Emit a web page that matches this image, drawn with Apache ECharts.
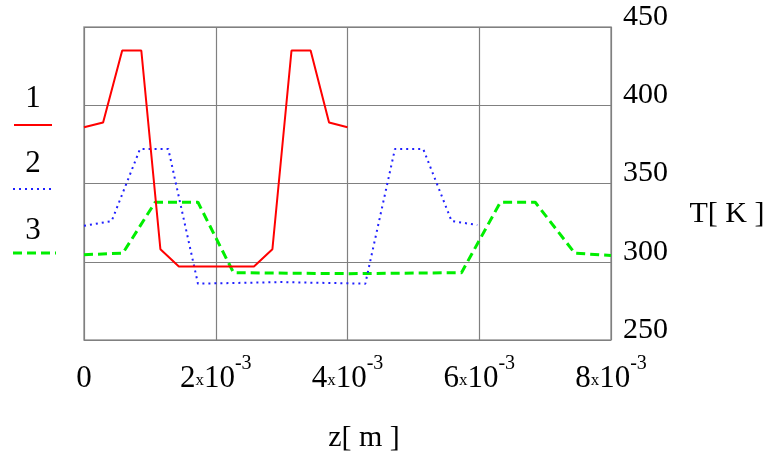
<!DOCTYPE html>
<html>
<head>
<meta charset="utf-8">
<script src="https://cdn.jsdelivr.net/npm/echarts@6/dist/echarts.min.js"></script>
<style>
html,body{margin:0;padding:0;background:#fff;}
#chart{width:767px;height:454px;}
</style>
</head>
<body>
<div id="chart"></div>
<script>
// Data (z in metres, T in kelvin)
const z1 = [0, 0.00029, 0.00058, 0.00087, 0.00116, 0.00144, 0.00258, 0.00286, 0.00315, 0.00344, 0.00372, 0.0040];
const T1 = [386, 389, 435, 435, 308, 297, 297, 308, 435, 435, 389, 386];
const z2 = [0, 0.00042, 0.00085, 0.00128, 0.00173, 0.0030, 0.00427, 0.00472, 0.00515, 0.00558, 0.00597];
const T2 = [323, 326, 372, 372, 286, 287, 286, 372, 372, 326, 323.5];
const z3 = [0, 0.00059, 0.00108, 0.00173, 0.00227, 0.0040, 0.00573, 0.00632, 0.00685, 0.00745, 0.0080];
const T3 = [304.5, 305.5, 338, 338, 293, 292.4, 293, 338, 338, 305.5, 304];
const xTicks = [0, 0.002, 0.004, 0.006, 0.008];
const xTickMant = ['0', '2', '4', '6', '8'];
const yTicks = [250, 300, 350, 400, 450];
const seriesNames = ['1', '2', '3'];
const xAxisTitle = 'z[ m ]';
const yAxisTitle = 'T[ K ]';

const FONT = '"Liberation Serif", "Times New Roman", serif';
const pair = (zs, ts) => zs.map((z, i) => [z, ts[i]]);

const chart = echarts.init(document.getElementById('chart'));
chart.setOption({
  animation: false,
  backgroundColor: '#fff',
  grid: { left: 84, right: 156, top: 27, bottom: 114, show: true, borderColor: '#9a9a9a', borderWidth: 1.5 },
  xAxis: {
    type: 'value', min: 0, max: 0.008, interval: 0.002,
    axisLine: { show: false }, axisTick: { show: false },
    splitLine: { show: true, lineStyle: { color: '#808080', width: 1.2 } },
    axisLabel: {
      margin: 14, color: '#000', fontFamily: FONT,
      formatter: function (v) {
        const i = xTicks.findIndex(t => Math.abs(t - v) < 1e-9);
        if (i <= 0) return '{m|0}';
        return '{m|' + xTickMant[i] + '}{x|x}{m|10}{s|-3}';
      },
      rich: {
        m: { fontSize: 31, fontFamily: FONT, color: '#000', lineHeight: 40, verticalAlign: 'bottom' },
        x: { fontSize: 17, fontFamily: FONT, color: '#000', lineHeight: 40, verticalAlign: 'bottom', padding: [0, 0, 5, 0] },
        s: { fontSize: 20, fontFamily: FONT, color: '#000', lineHeight: 20, verticalAlign: 'top' }
      }
    }
  },
  yAxis: {
    type: 'value', position: 'right', min: 250, max: 450, interval: 50,
    axisLine: { show: false }, axisTick: { show: false },
    splitLine: { show: true, lineStyle: { color: '#808080', width: 1.2 } },
    axisLabel: {
      margin: 12, color: '#000', fontFamily: FONT, fontSize: 30,
      verticalAlign: 'bottom', lineHeight: 20,
      formatter: v => (yTicks.includes(v) ? String(v) : '')
    }
  },
  graphic: [
    { type: 'text', x: 364, y: 438, style: { text: xAxisTitle, font: '30px ' + FONT, fill: '#000', align: 'center', verticalAlign: 'middle' } },
    { type: 'text', x: 727, y: 214, style: { text: yAxisTitle, font: '30px ' + FONT, fill: '#000', align: 'center', verticalAlign: 'middle' } },
    { type: 'text', x: 33, y: 99, style: { text: seriesNames[0], font: '31px ' + FONT, fill: '#000', align: 'center', verticalAlign: 'middle' } },
    { type: 'line', shape: { x1: 14, y1: 125, x2: 52, y2: 125 }, style: { stroke: '#ff0000', lineWidth: 2 } },
    { type: 'text', x: 33, y: 164, style: { text: seriesNames[1], font: '31px ' + FONT, fill: '#000', align: 'center', verticalAlign: 'middle' } },
    { type: 'line', shape: { x1: 13, y1: 189, x2: 55, y2: 189 }, style: { stroke: '#2020ff', lineWidth: 2, lineDash: [2, 4] } },
    { type: 'text', x: 33, y: 231, style: { text: seriesNames[2], font: '31px ' + FONT, fill: '#000', align: 'center', verticalAlign: 'middle' } },
    { type: 'line', shape: { x1: 13, y1: 253, x2: 56, y2: 253 }, style: { stroke: '#00ee00', lineWidth: 3, lineDash: [9, 5] } }
  ],
  series: [
    { name: seriesNames[0], type: 'line', data: pair(z1, T1), showSymbol: false, lineStyle: { color: '#ff0000', width: 2 }, z: 5 },
    { name: seriesNames[1], type: 'line', data: pair(z2, T2), showSymbol: false, lineStyle: { color: '#2020ff', width: 2, type: [2, 4] }, z: 4 },
    { name: seriesNames[2], type: 'line', data: pair(z3, T3), showSymbol: false, lineStyle: { color: '#00ee00', width: 3, type: [9, 5] }, z: 3 }
  ]
});
</script>
</body>
</html>
